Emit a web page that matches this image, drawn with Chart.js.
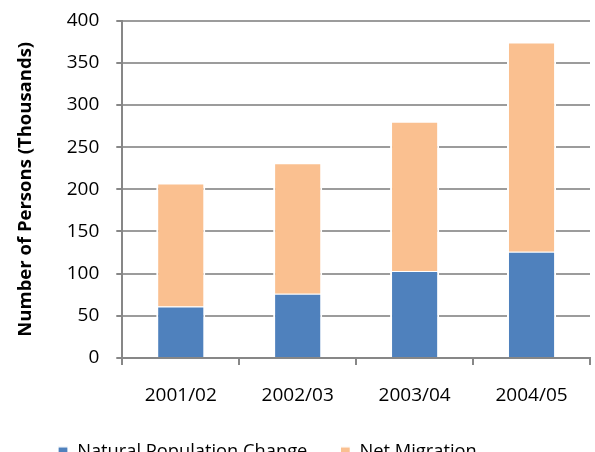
<!DOCTYPE html>
<html>
<head>
<meta charset="utf-8">
<script src="https://cdn.jsdelivr.net/npm/chart.js@4"></script>
<style>
  html, body { margin: 0; padding: 0; background: #fff; overflow: hidden; }
  #wrap { width: 595px; height: 487px; }
</style>
</head>
<body>
<div id="wrap"><canvas id="chart" width="595" height="487"></canvas></div>
<script>
// Population growth components, thousands of persons
const years = ["2001/02", "2002/03", "2003/04", "2004/05"];
const naturalChange = [61, 76, 103, 126];
const netMigration = [146, 155, 177, 248];
const yTicks = [0, 50, 100, 150, 200, 250, 300, 350, 400];

const FONT = "'Open Sans', 'DejaVu Sans', sans-serif";
const GRID = "#9c9c9c";
const AXIS = "#878787";

// legend sits left of centre and close under the axis in the original
const legendShift = {
  id: "legendShift",
  afterLayout(c) {
    c.legend.left += 25;
    c.legend.top -= 16;
  },
};

new Chart(document.getElementById("chart"), {
  type: "bar",
  data: {
    labels: years,
    datasets: [
      { label: "Natural Population Change", data: naturalChange, backgroundColor: "#4f81bd" },
      { label: "Net Migration", data: netMigration, backgroundColor: "#fac090" },
    ],
  },
  options: {
    responsive: false,
    animation: false,
    layout: { padding: { top: 0, right: 5, left: 0, bottom: 0 } },
    datasets: {
      bar: {
        barPercentage: 0.42,
        categoryPercentage: 1,
        borderColor: "#ffffff",
        borderWidth: { top: 1, left: 2, right: 2, bottom: 0 },
        borderSkipped: false,
      },
    },
    scales: {
      x: {
        stacked: true,
        grid: { drawOnChartArea: false, color: AXIS, lineWidth: 2, tickLength: 7 },
        border: { color: AXIS, width: 2 },
        ticks: { color: "#000", font: { family: FONT, size: 19 }, padding: 19 },
      },
      y: {
        stacked: true,
        min: 0,
        max: 400,
        afterBuildTicks: (s) => { s.ticks = yTicks.map((v) => ({ value: v })); },
        grid: { color: GRID, lineWidth: 2, tickLength: 6, tickColor: AXIS },
        border: { color: AXIS, width: 2 },
        // small lineHeight keeps the top label from pushing the plot down
        ticks: { color: "#000", font: { family: FONT, size: 19, lineHeight: 0.39 }, padding: 17 },
        title: {
          display: true,
          text: "Number of Persons (Thousands)",
          color: "#000",
          font: { family: FONT, size: 18.5, weight: "bold" },
          padding: { top: 15, bottom: 12.5 },
        },
      },
    },
    plugins: {
      legend: {
        position: "bottom",
        align: "start",
        labels: {
          boxWidth: 10,
          boxHeight: 10,
          padding: 33,
          color: "#000",
          font: { family: FONT, size: 18.3 },
        },
      },
      tooltip: { enabled: false },
    },
  },
  plugins: [legendShift],
});
</script>
</body>
</html>
